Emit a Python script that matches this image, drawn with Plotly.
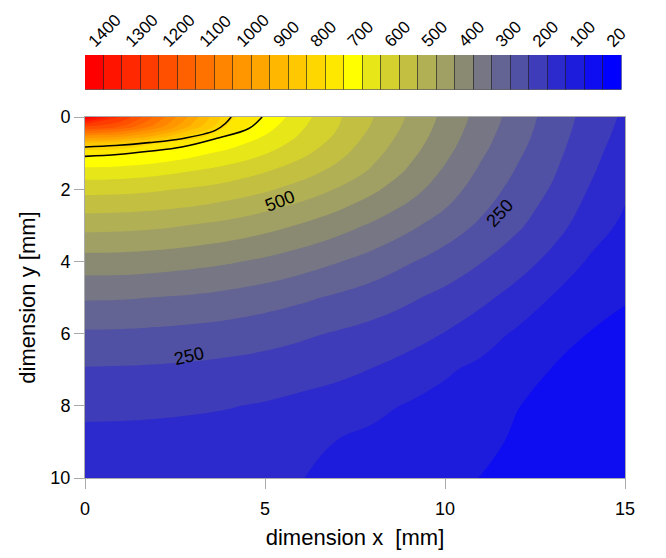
import plotly.graph_objects as go

# temperature field: columns = x [mm], rows = y [mm]
x_mm = [0, 1, 2, 3, 4, 5, 6, 7, 8, 9, 10, 11, 12, 13, 14, 15]
y_mm = [0, 0.25, 0.5, 0.75, 1, 1.5, 2, 2.5, 3, 4, 5, 6, 7, 8, 9, 10]
temp = [
    [1430, 1270, 1110, 950, 790, 718, 644, 583, 526, 469, 412, 356, 303, 253, 208, 166],
    [1235, 1178, 1055, 911, 764, 697, 633, 578, 520, 463, 407, 351, 299, 250, 205, 162],
    [1040, 1009, 926, 812, 726, 675, 621, 569, 510, 456, 401, 345, 294, 247, 201, 158],
    [845, 824, 771, 728, 692, 651, 606, 556, 500, 448, 394, 339, 289, 243, 197, 153],
    [743, 735, 716, 690, 661, 628, 588, 542, 490, 439, 386, 332, 283, 239, 192, 149],
    [656, 652, 641, 624, 604, 578, 547, 510, 467, 418, 368, 317, 271, 230, 183, 141],
    [591, 589, 581, 569, 554, 533, 505, 472, 434, 394, 349, 301, 258, 220, 173, 132],
    [541, 539, 533, 523, 507, 486, 462, 433, 401, 366, 327, 284, 246, 208, 162, 124],
    [492, 490, 484, 473, 460, 442, 421, 396, 368, 336, 302, 267, 233, 195, 150, 115],
    [404, 403, 398, 390, 380, 366, 348, 328, 305, 279, 254, 227, 197, 160, 120, 96],
    [330, 329, 324, 319, 310, 298, 284, 268, 251, 232, 212, 187, 156, 122, 96, 77],
    [268, 267, 264, 259, 253, 244, 233, 221, 209, 194, 173, 146, 118, 96, 74, 68],
    [221, 220, 218, 215, 210, 204, 196, 187, 173, 155, 131, 114, 94, 73, 66, 61],
    [187, 186, 184, 181, 177, 171, 162, 152, 136, 121, 110, 93, 76, 66, 60, 56],
    [160, 160, 159, 157, 154, 149, 137, 124, 114, 105, 96, 84, 70, 61, 55, 52],
    [150, 149, 148, 146, 143, 138, 126, 116, 107, 97, 88, 74, 66, 58, 52, 48],
]

# the two black isolines near the source
upper_x = [0, 0.84, 1.77, 2.69, 3.62, 3.9, 4.06]
upper_y = [0.83, 0.79, 0.71, 0.60, 0.37, 0.18, 0]
lower_x = [0, 0.9, 1.77, 2.69, 3.62, 4.55, 4.92]
lower_y = [1.09, 1.04, 0.95, 0.83, 0.60, 0.32, 0]

# colour key (left to right)
bin_labels = [1400, 1350, 1300, 1250, 1200, 1150, 1100, 1050, 1000, 950,
              900, 850, 800, 750, 700, 650, 600, 550, 500, 450,
              400, 350, 300, 250, 200, 150, 100, 50, 20]
bin_colors = ['#ff0000', '#ff1400', '#ff2800', '#ff3c00', '#ff5000', '#ff6000',
              '#ff7200', '#ff8400', '#ff9600', '#ffa500', '#ffb700', '#ffc800',
              '#ffd700', '#ffe800', '#ffff00', '#e6e619', '#d4d02d', '#c3c041',
              '#b2b055', '#a0a064', '#8a8a73', '#767684', '#646494', '#5050a5',
              '#3e3cb9', '#2d2acd', '#1e1cdc', '#0e0cf0', '#0000ff']
key_ticks = [1400, 1300, 1200, 1100, 1000, 900, 800, 700, 600, 500, 400, 300, 200, 100, 20]

# contour labels
lab_text = ['500', '250', '250']
lab_x = [5.42, 11.53, 2.9]
lab_y = [2.33, 2.67, 6.62]
lab_angle = [-21, -47, -13]

n = len(bin_colors) - 1
scale = [[k / n, c] for k, c in enumerate(reversed(bin_colors))]

FONT = 'Liberation Sans, Arial, sans-serif'

fig = go.Figure()
fig.add_trace(go.Contour(
    x=x_mm, y=y_mm, z=temp,
    contours=dict(start=25, end=1375, size=50, coloring='fill', showlines=False),
    line=dict(width=0, smoothing=1.3),
    colorscale=scale, showscale=False, hoverinfo='skip'))

for xs, ys in [(upper_x, upper_y), (lower_x, lower_y)]:
    fig.add_trace(go.Scatter(x=xs, y=ys, mode='lines',
                             line=dict(color='black', width=1.6, shape='spline'),
                             showlegend=False, hoverinfo='skip'))

fig.add_trace(go.Bar(
    x=[str(v) for v in bin_labels], y=[1] * len(bin_labels),
    marker=dict(color=bin_colors, line=dict(color='rgba(0,0,0,0.45)', width=1)),
    xaxis='x2', yaxis='y2', showlegend=False, hoverinfo='skip'))

for t, x, y, a in zip(lab_text, lab_x, lab_y, lab_angle):
    fig.add_annotation(x=x, y=y, text=t, textangle=a, showarrow=False,
                       font=dict(family=FONT, size=18, color='black'))

fig.update_layout(
    width=658, height=550,
    margin=dict(l=77, r=41, t=47, b=80),
    paper_bgcolor='white', plot_bgcolor='white',
    font=dict(family=FONT, size=18, color='black'),
    bargap=0, showlegend=False,
    xaxis=dict(domain=[0, 1], range=[0, 15], tickvals=[0, 5, 10, 15],
               ticks='outside', ticklen=10, tickcolor='#aaaaaa',
               ticklabelstandoff=4,
               showline=True, linecolor='#aaaaaa', mirror=True,
               showgrid=False, zeroline=False, automargin=False,
               title=dict(text='dimension x\u00a0 [mm]', standoff=12)),
    yaxis=dict(domain=[0, 0.8534], range=[10, 0], tickvals=[0, 2, 4, 6, 8, 10],
               ticks='outside', ticklen=10, tickcolor='#aaaaaa',
               showline=True, linecolor='#aaaaaa', mirror=True,
               showgrid=False, zeroline=False, automargin=False,
               title=dict(text='dimension y [mm]', standoff=8)),
    xaxis2=dict(domain=[0, 0.994], anchor='y2', side='top', type='category',
                range=[-0.5, len(bin_labels) - 0.5],
                tickvals=[str(v) for v in key_ticks],
                ticktext=[str(v) for v in key_ticks],
                tickangle=-45, ticks='', showline=False, showgrid=False,
                ticklabelshift=-5,
                automargin=False, tickfont=dict(size=17)),
    yaxis2=dict(domain=[0.917, 1], anchor='x2', range=[0, 1], visible=False),
)

fig.write_html("out.html")
